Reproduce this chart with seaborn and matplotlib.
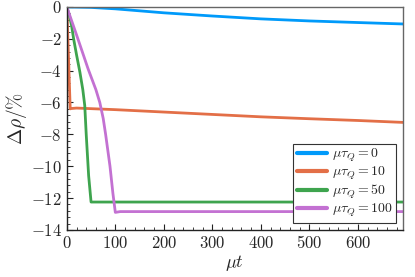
import matplotlib
matplotlib.use("Agg")
import matplotlib.pyplot as plt
import numpy as np
import pandas as pd
import seaborn as sns
from matplotlib.ticker import FuncFormatter, AutoMinorLocator

# data
t_tau0 = [0, 50, 100, 200, 300, 400, 500, 600, 693]
rho_tau0 = [0, -0.03, -0.12, -0.37, -0.57, -0.75, -0.88, -0.98, -1.07]

t_tau10 = [0, 7, 9, 20, 100, 200, 300, 400, 500, 600, 693]
rho_tau10 = [0, -6.4, -6.38, -6.35, -6.45, -6.6, -6.75, -6.9, -7.02, -7.13, -7.25]

t_tau50 = [0, 5, 10, 14, 20, 27, 33, 37, 40, 45, 50, 60, 693]
rho_tau50 = [0, -0.5, -1.2, -2.0, -3.0, -4.1, -5.2, -6.2, -8.0, -10.6, -12.25, -12.25, -12.25]

t_tau100 = [0, 20, 44, 60, 68, 75, 80, 89, 95, 100, 110, 693]
rho_tau100 = [0, -1.75, -3.9, -5.2, -6.0, -7.0, -8.0, -10.0, -11.7, -12.9, -12.85, -12.85]

labels = [r"$\mu\tau_Q = 0$", r"$\mu\tau_Q = 10$", r"$\mu\tau_Q = 50$", r"$\mu\tau_Q = 100$"]
colors = ["#009AFA", "#E36F47", "#3EA44E", "#C371D2"]

frames = []
for t, r, lab in zip([t_tau0, t_tau10, t_tau50, t_tau100],
                     [rho_tau0, rho_tau10, rho_tau50, rho_tau100], labels):
    frames.append(pd.DataFrame({"t": t, "rho": r, "series": lab}))
df = pd.concat(frames, ignore_index=True)

sns.set_style("ticks")
plt.rcParams["mathtext.fontset"] = "cm"
plt.rcParams["font.family"] = ["DejaVu Serif"]

fig = plt.figure(figsize=(4.15, 2.77), dpi=100)
ax = fig.add_axes([0.161, 0.170, 0.810, 0.805])

sns.lineplot(data=df, x="t", y="rho", hue="series", palette=colors,
             linewidth=2, ax=ax, estimator=None, sort=False)

ax.set_xlim(0, 693)
ax.set_ylim(-14, 0)
ax.set_xticks([0, 100, 200, 300, 400, 500, 600])
ax.set_yticks([0, -2, -4, -6, -8, -10, -12, -14])
fmt = FuncFormatter(lambda v, p: "$%g$" % v)
ax.xaxis.set_major_formatter(fmt)
ax.yaxis.set_major_formatter(fmt)
ax.xaxis.set_minor_locator(AutoMinorLocator(5))
ax.yaxis.set_minor_locator(AutoMinorLocator(5))
ax.tick_params(which="both", direction="in", top=False, right=False,
               labelsize=12, color="#222222")
ax.tick_params(which="major", length=4, width=0.8)
ax.tick_params(which="minor", length=2, width=0.6)
for name, s in ax.spines.items():
    s.set_linewidth(1)
    s.set_color("#222222" if name in ("left", "bottom") else "#666666")

ax.set_xlabel(r"$\mu t$", fontsize=13, labelpad=1)
ax.set_ylabel(r"$\Delta\rho/\%$", fontsize=14, labelpad=1)

leg = ax.legend(loc="lower right", fontsize=10, frameon=True, fancybox=False,
                edgecolor="#333333", framealpha=1, handlelength=2.2,
                handletextpad=0.3, borderpad=0.25, labelspacing=0.05,
                borderaxespad=0.5)
leg.get_frame().set_linewidth(0.8)
for line in leg.get_lines():
    line.set_linewidth(3)

fig.savefig("out.png", dpi=100)
